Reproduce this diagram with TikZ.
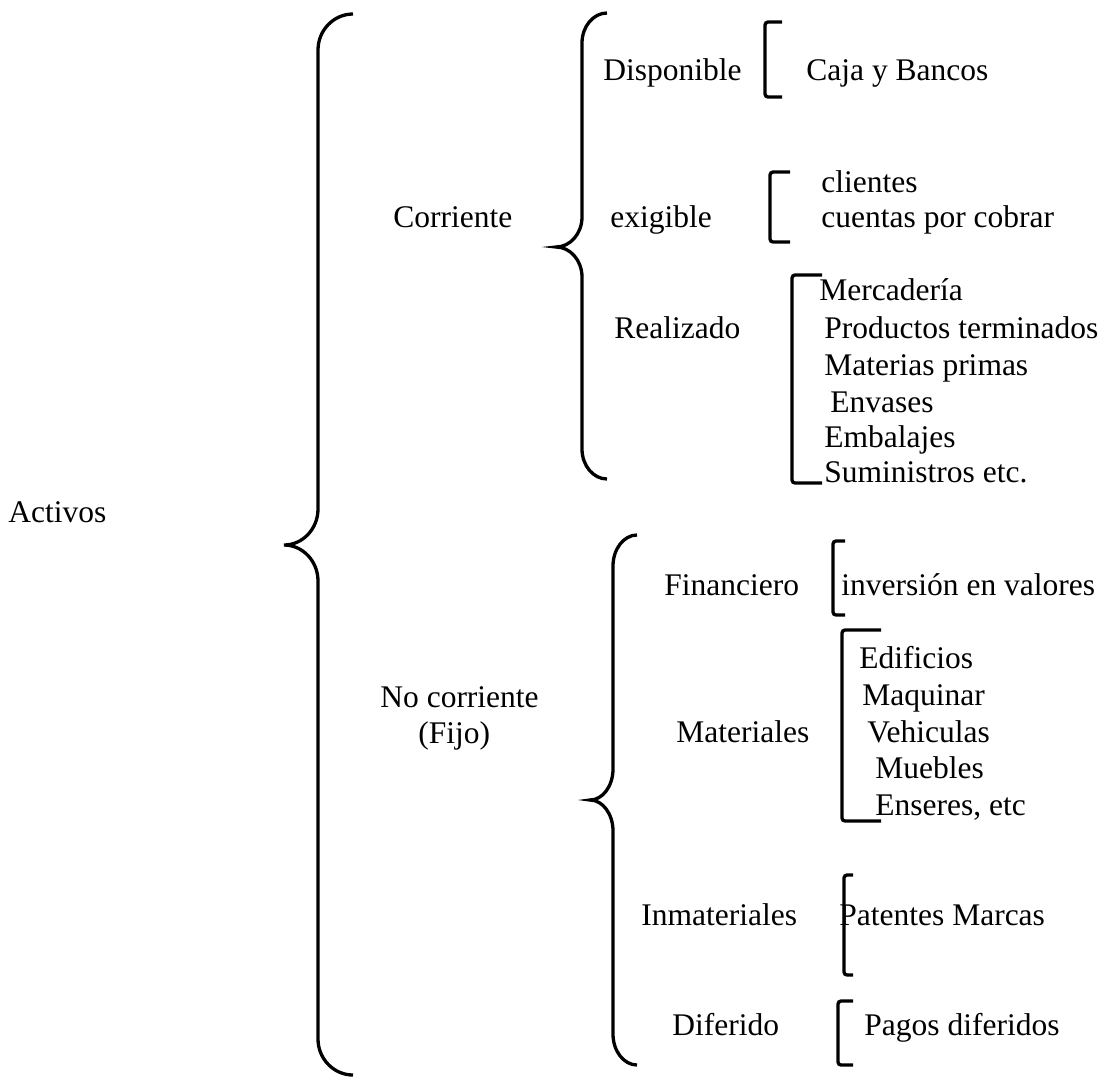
\documentclass[tikz,border=0pt]{standalone}
\usepackage{fontspec}
\setmainfont{Liberation Serif}
\usepackage{tikz}
\tikzset{
	bracepath/.style={line width=1.65pt},
	bracketpath/.style={line width=1.65pt, rounded corners=1.5pt},
	txt/.style={anchor=base west, inner sep=0pt, font=\fontsize{15.75pt}{19pt}\selectfont}
}
% #1 x of the stem, #2 x of the ends, #3 x of the tip, #4 top, #5 tip, #6 bottom, #7 bend
\newcommand{\makebrace}[7]{
	\draw[bracepath] (#2,#4) .. controls ({#2-0.55*(#2-#1)},#4) and (#1,{#4+0.45*#7}) .. (#1,{#4+#7})
		-- (#1,{#5-#7}) .. controls (#1,{#5-0.45*#7}) and ({#3+0.55*(#1-#3)},#5) .. (#3,#5)
		.. controls ({#3+0.55*(#1-#3)},#5) and (#1,{#5+0.45*#7}) .. (#1,{#5+#7})
		-- (#1,{#6-#7}) .. controls (#1,{#6-0.45*#7}) and ({#2-0.55*(#2-#1)},#6) .. (#2,#6);
}
\newcommand{\makebracket}[4]{
	\draw[bracketpath] (#2,#3) -- (#1,#3) -- (#1,#4) -- (#2,#4);
}

\begin{document}
\begin{tikzpicture}[x=0.5pt,y=-0.5pt]
	\useasboundingbox (0,0) rectangle (1108,1077);

	\makebrace{318}{353}{284}{14}{545}{1075}{36}
	\makebrace{582}{607}{556}{13}{247}{479}{30}
	\makebrace{613}{637}{590}{535}{800}{1065}{31}

	\makebracket{765}{782}{22}{97}
	\makebracket{770}{790}{172}{242}
	\makebracket{792}{822}{275}{483}
	\makebracket{833}{845}{541}{615}
	\makebracket{842}{881}{630}{821}
	\makebracket{844}{853}{875}{975}
	\makebracket{838}{853}{1001}{1065}

	\node[txt] (activos) at (8,522) {Activos};
	\node[txt] (corriente) at (393,227) {Corriente};
	\node[txt] (nocorriente) at (380,707) {No corriente};
	\node[txt] (fijo) at (418,743) {(Fijo)};

	\node[txt] (disponible) at (603,80) {Disponible};
	\node[txt] (exigible) at (610,227) {exigible};
	\node[txt] (realizado) at (614,338) {Realizado};
	\node[txt] (financiero) at (664,595) {Financiero};
	\node[txt] (materiales) at (676,742) {Materiales};
	\node[txt] (inmateriales) at (641,925) {Inmateriales};
	\node[txt] (diferido) at (672,1035) {Diferido};

	\node[txt] (caja) at (806,80) {Caja y Bancos};
	\node[txt] (clientes) at (821,192) {clientes};
	\node[txt] (cuentas) at (821,227) {cuentas por cobrar};
	\foreach \x/\y/\t [count=\i] in {819/300/Mercadería, 824/338/Productos terminados,
		824/375/Materias primas, 830/412/Envases, 824/447/Embalajes, 824/482/Suministros etc.}
		\node[txt] (real\i) at (\x,\y) {\t};
	\node[txt] (inversion) at (841,595) {inversión en valores};
	\foreach \x/\y/\t [count=\i] in {859/668/Edificios, 862/705/Maquinar,
		867/742/Vehiculas, 875/778/Muebles, 875/815/{Enseres, etc}}
		\node[txt] (mat\i) at (\x,\y) {\t};
	\node[txt] (patentes) at (839,925) {Patentes Marcas};
	\node[txt] (pagos) at (864,1035) {Pagos diferidos};
\end{tikzpicture}
\end{document}
